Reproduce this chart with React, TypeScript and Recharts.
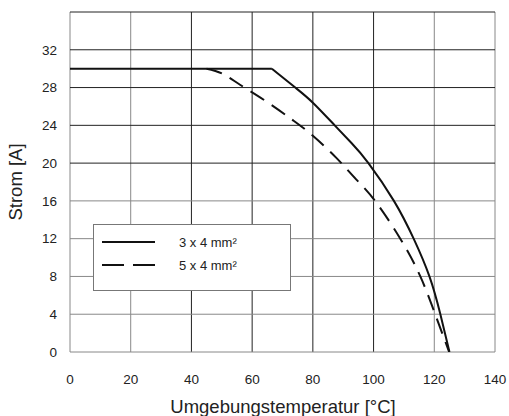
import { Line, LineChart, ReferenceLine, XAxis, YAxis } from "recharts"

// 3 x 4 mm²: flat part, then the derating curve
const solidTemp = [0, 66.5, 74.2, 80, 87.2, 92.8, 98.3, 106.7, 113.2, 118.4, 122, 125]
const solidCurrent = [30, 30, 28, 26.4, 24, 22.1, 20, 16, 12, 8, 4, 0]

// 5 x 4 mm²
const dashedTemp = [0, 45, 50, 56, 64.8, 73.6, 80, 87.9, 94.5, 100.5, 108.8, 115.4, 120.3, 124.9]
const dashedCurrent = [30, 30, 29.5, 28.3, 26.5, 24.5, 22.9, 20.5, 18.2, 16, 12, 8, 4, 0]

const xTicks = [0, 20, 40, 60, 80, 100, 120, 140]
const yTicks = [0, 4, 8, 12, 16, 20, 24, 28, 32]
const grayX = [0, 20, 120, 140]
const grayY = [0, 4, 8, 12, 16]
const legendLabels = ["3 x 4 mm²", "5 x 4 mm²"]

const solidData = solidTemp.map((t, i) => ({ t, a: solidCurrent[i] }))
const dashedData = dashedTemp.map((t, i) => ({ t, a: dashedCurrent[i] }))

const font = "'Liberation Sans', Arial, sans-serif"

function LegendBox() {
  return (
    <div
      style={{
        position: "absolute",
        left: 93,
        top: 224,
        width: 198,
        height: 67,
        border: "1px solid #777",
        background: "#fff",
        boxSizing: "border-box",
      }}
    >
      <svg width={196} height={65} style={{ display: "block" }}>
        <line x1={8} x2={61} y1={17} y2={17} stroke="#111" strokeWidth={2} />
        <line x1={8} x2={61} y1={40} y2={40} stroke="#111" strokeWidth={2} strokeDasharray="22 9" />
        <text x={85} y={22} fill="#222" fontSize={13} fontFamily={font}>{legendLabels[0]}</text>
        <text x={85} y={45} fill="#222" fontSize={13} fontFamily={font}>{legendLabels[1]}</text>
      </svg>
    </div>
  )
}

export default function App() {
  return (
    <div style={{ position: "absolute", left: 0, top: 0, width: 509, height: 416, background: "#fff" }}>
      <LineChart width={509} height={416} margin={{ top: 12, right: 14, left: 0, bottom: 0 }}>
        <XAxis
          type="number"
          dataKey="t"
          domain={[0, 140]}
          ticks={xTicks}
          allowDataOverflow
          axisLine={false}
          tickLine={false}
          tickSize={0}
          tickMargin={22}
          height={64}
          tick={{ fill: "#222", fontSize: 13.5, fontFamily: font }}
          label={{
            content: () => (
              <text x={283} y={413} textAnchor="middle" fill="#222" fontSize={18.5} fontFamily={font}>
                Umgebungstemperatur [°C]
              </text>
            ),
          }}
        />
        <YAxis
          type="number"
          dataKey="a"
          domain={[0, 36]}
          ticks={yTicks}
          allowDataOverflow
          axisLine={false}
          tickLine={false}
          tickSize={0}
          tickMargin={13}
          width={70}
          tick={{ fill: "#222", fontSize: 13.5, fontFamily: font }}
          label={{
            content: () => (
              <text
                x={22}
                y={182}
                textAnchor="middle"
                fill="#222"
                fontSize={18.5}
                fontFamily={font}
                transform="rotate(-90 22 182)"
              >
                Strom [A]
              </text>
            ),
          }}
        />
        {xTicks.map((x) => (
          <ReferenceLine key={"x" + x} x={x} stroke={grayX.includes(x) ? "#888" : "#222"} strokeWidth={1} />
        ))}
        {[...yTicks, 36].map((y) => (
          <ReferenceLine key={"y" + y} y={y} stroke={grayY.includes(y) ? "#888" : "#222"} strokeWidth={1} />
        ))}
        <Line
          data={dashedData.slice(1)}
          dataKey="a"
          type="natural"
          stroke="#111"
          strokeWidth={2}
          strokeDasharray="16 9"
          dot={false}
          activeDot={false}
          isAnimationActive={false}
        />
        <Line
          data={solidData.slice(0, 2)}
          dataKey="a"
          type="linear"
          stroke="#111"
          strokeWidth={2}
          dot={false}
          activeDot={false}
          isAnimationActive={false}
        />
        <Line
          data={solidData.slice(1)}
          dataKey="a"
          type="natural"
          stroke="#111"
          strokeWidth={2}
          dot={false}
          activeDot={false}
          isAnimationActive={false}
        />
      </LineChart>
      <LegendBox />
    </div>
  )
}
